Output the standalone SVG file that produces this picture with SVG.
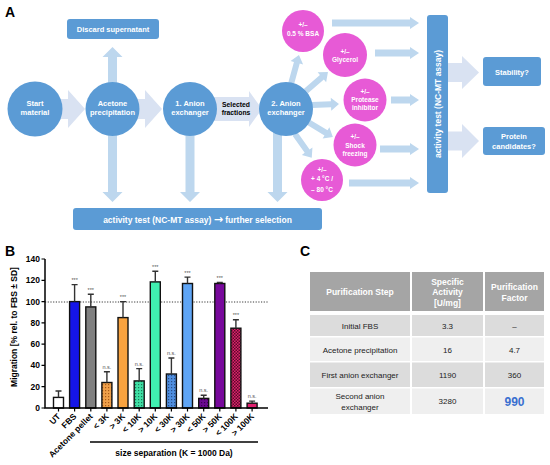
<svg xmlns="http://www.w3.org/2000/svg" width="550" height="465" viewBox="0 0 550 465">
<defs>
<style>
text{font-family:"Liberation Sans",Arial,sans-serif}
.pl{font-size:14px;font-weight:bold;fill:#000}
.bc{fill:#5b9bd5}
.pk{fill:#e75ad6}
.wt{fill:#fff;font-weight:bold;text-anchor:middle}
.cl{font-size:7.5px}
.pt{font-size:6.5px}
.la{fill:#bdd7ee}
.ch{fill:#d9e2f2}
.ax{stroke:#000;stroke-width:1.5;fill:none}
.bar{stroke:#111;stroke-width:1.4}
.eb{stroke:#333;stroke-width:1.4;fill:none}
.an{font-size:5.5px;fill:#555;text-anchor:middle}
.tk{font-size:8.5px;font-weight:bold;text-anchor:end}
.xl{font-size:8.5px;font-weight:bold;text-anchor:end}
.th{fill:#a5a5a5}
.r1{fill:#dcdcdc}
.r2{fill:#efefef}
.tt{font-size:8px;text-anchor:middle;fill:#222}
.thx{font-size:8.5px;font-weight:bold;text-anchor:middle;fill:#fff}
</style>
<pattern id="pOr" width="3" height="3" patternUnits="userSpaceOnUse"><rect width="3" height="3" fill="#f0a04a"/><rect width="1.2" height="1.2" fill="#a85a18"/></pattern>
<pattern id="pGr" width="3" height="3" patternUnits="userSpaceOnUse"><rect width="3" height="3" fill="#3fe0a5"/><rect width="1.2" height="1.2" fill="#1c7a58"/></pattern>
<pattern id="pBl" width="3" height="3" patternUnits="userSpaceOnUse"><rect width="3" height="3" fill="#4f8fe0"/><rect width="1.2" height="1.2" fill="#2a4f8a"/></pattern>
<pattern id="pPu" width="3" height="3" patternUnits="userSpaceOnUse"><rect width="3" height="3" fill="#6a0a90"/><rect width="1.2" height="1.2" fill="#3a0050"/></pattern>
<pattern id="pCk" width="3" height="3" patternUnits="userSpaceOnUse"><rect width="3" height="3" fill="#e0226c"/><rect width="1.5" height="1.5" fill="#5a0a2a"/><rect x="1.5" y="1.5" width="1.5" height="1.5" fill="#5a0a2a"/></pattern>
</defs>
<rect width="550" height="465" fill="#fff"/>

<!-- Panel labels -->
<text class="pl" x="5" y="17">A</text>
<text class="pl" x="5" y="256">B</text>
<text class="pl" x="300" y="256">C</text>

<!-- Panel A connectors -->
<g id="connectors-A">
<polygon class="ch" points="55,99 68,99 68,90 85,109 68,128 68,119 55,119"/>
<polygon class="ch" points="132,99 145,99 145,90 162,109 145,128 145,119 132,119"/>
<polygon class="ch" points="210,97 249,97 249,91 262,109 249,127 249,121 210,121"/>
<polygon class="la" points="108,86 108,57 102.5,57 112.5,47 122.5,57 117,57 117,86"/>
<polygon class="la" points="108,132 108,192 102.5,192 112.5,202 122.5,192 117,192 117,132"/>
<polygon class="la" points="185.5,132 185.5,192 180,192 190,202 200,192 194.5,192 194.5,132"/>
<polygon class="la" points="273,132 273,192 267.5,192 277.5,202 287.5,192 282,192 282,132"/>
<g class="la">
<polygon transform="translate(291,84) rotate(-74.6)" points="0,-3 22,-3 22,-6.5 30,0 22,6.5 22,3 0,3"/>
<polygon transform="translate(306,91) rotate(-40.8)" points="0,-3 21,-3 21,-6.5 29,0 21,6.5 21,3 0,3"/>
<polygon transform="translate(312,105) rotate(-2)" points="0,-3 19,-3 19,-6.5 27,0 19,6.5 19,3 0,3"/>
<polygon transform="translate(308,122) rotate(31)" points="0,-3 21,-3 21,-6.5 29,0 21,6.5 21,3 0,3"/>
<polygon transform="translate(295,134) rotate(54.7)" points="0,-3 21,-3 21,-6.5 29,0 21,6.5 21,3 0,3"/>
<polygon points="332,19.5 410,19.5 410,17 419,23 410,29 410,26.5 332,26.5"/>
<polygon points="375,49.5 410,49.5 410,47 419,53 410,59 410,56.5 375,56.5"/>
<polygon points="391,96.5 410,96.5 410,94 419,100 410,106 410,103.5 391,103.5"/>
<polygon points="380,145.5 410,145.5 410,143 419,149 410,155 410,152.5 380,152.5"/>
<polygon points="349,179.5 410,179.5 410,177 419,183 410,189 410,186.5 349,186.5"/>
</g>
<polygon class="ch" points="448,63 462,63 462,56 479,72.5 462,89 462,82 448,82"/>
<polygon class="ch" points="448,131.5 462,131.5 462,124 479,141 462,158 462,150.5 448,150.5"/>
</g>
<text x="236" y="107" font-size="6.8" font-weight="bold" text-anchor="middle">Selected</text>
<text x="236" y="115" font-size="6.8" font-weight="bold" text-anchor="middle">fractions</text>

<!-- Panel A nodes -->
<g id="discard"><rect class="bc" x="67" y="19" width="92" height="20" rx="3"/><text class="wt cl" x="113" y="32">Discard supernatant</text></g>
<g id="start"><circle class="bc" cx="35" cy="109" r="27.5"/><text class="wt cl" x="35" y="106">Start</text><text class="wt cl" x="35" y="115">material</text></g>
<g id="acetone"><circle class="bc" cx="112.5" cy="109" r="27"/><text class="wt cl" x="112.5" y="106">Acetone</text><text class="wt cl" x="112.5" y="115">precipitation</text></g>
<g id="anion1"><circle class="bc" cx="190" cy="109" r="27"/><text class="wt cl" x="190" y="106">1. Anion</text><text class="wt cl" x="190" y="115">exchanger</text></g>
<g id="anion2"><circle class="bc" cx="286" cy="109" r="27"/><text class="wt cl" x="286" y="106">2. Anion</text><text class="wt cl" x="286" y="115">exchanger</text></g>
<g id="bsa"><circle class="pk" cx="303" cy="31" r="21"/><text class="wt pt" x="303" y="27">+/–</text><text class="wt pt" x="303" y="36">0.5 % BSA</text></g>
<g id="glycerol"><circle class="pk" cx="345" cy="55" r="22"/><text class="wt pt" x="345" y="54">+/–</text><text class="wt pt" x="345" y="62">Glycerol</text></g>
<g id="protease"><circle class="pk" cx="365" cy="100" r="21.5"/><text class="wt pt" x="365" y="94">+/–</text><text class="wt pt" x="365" y="102">Protease</text><text class="wt pt" x="365" y="110">inhibitor</text></g>
<g id="shock"><circle class="pk" cx="355" cy="145" r="21.5"/><text class="wt pt" x="355" y="139">+/–</text><text class="wt pt" x="355" y="147.5">Shock</text><text class="wt pt" x="355" y="156">freezing</text></g>
<g id="temp"><circle class="pk" cx="322" cy="180" r="21"/><text class="wt pt" x="322" y="172">+/–</text><text class="wt pt" x="322" y="181">+ 4 °C /</text><text class="wt pt" x="322" y="192">– 80 °C</text></g>
<g id="activity-bottom"><rect class="bc" x="73" y="208" width="249" height="22" rx="3"/><text class="wt" font-size="8.5" x="197.5" y="222.5">activity test (NC-MT assay) <tspan font-size="11" font-family="DejaVu Sans, sans-serif">→</tspan> further selection</text></g>
<g id="activity-vertical"><rect class="bc" x="427" y="15" width="21" height="178" rx="3"/><text class="wt" font-size="8.5" transform="translate(441,104) rotate(-90)">activity test (NC-MT assay)</text></g>
<g id="stability"><rect class="bc" x="483" y="57" width="58" height="29" rx="3"/><text class="wt cl" x="512" y="75">Stability?</text></g>
<g id="protein"><rect class="bc" x="483" y="127" width="62" height="28" rx="3"/><text class="wt cl" x="514" y="139">Protein</text><text class="wt cl" x="514" y="149">candidates?</text></g>

<!-- Panel B chart -->
<g id="chart-B">
<line x1="45" y1="302" x2="268" y2="302" stroke="#222" stroke-width="0.9" stroke-dasharray="1.2,1.5"/>
<g class="bar">
<rect x="53.5" y="397.4" width="10" height="10.6" fill="#fff"/>
<rect x="69.6" y="301.6" width="10" height="106.4" fill="#1515e8"/>
<rect x="85.8" y="306.9" width="10" height="101.1" fill="#808080"/>
<rect x="101.9" y="382.5" width="10" height="25.5" fill="url(#pOr)"/>
<rect x="118" y="317.6" width="10" height="90.4" fill="#f8a340"/>
<rect x="134.2" y="380.9" width="10" height="27.1" fill="url(#pGr)"/>
<rect x="150.3" y="281.9" width="10" height="126.1" fill="#40f0b0"/>
<rect x="166.4" y="374" width="10" height="34" fill="url(#pBl)"/>
<rect x="182.5" y="283.5" width="10" height="124.5" fill="#5fa5f5"/>
<rect x="198.7" y="398.4" width="10" height="9.6" fill="url(#pPu)"/>
<rect x="214.8" y="283.5" width="10" height="124.5" fill="#78099c"/>
<rect x="230.9" y="328.2" width="10" height="79.8" fill="url(#pCk)"/>
<rect x="247.1" y="403.2" width="10" height="4.8" fill="#e0206e"/>
</g>
<path class="eb" d="M58.5,397.4V391M55.5,391H61.5M74.6,301.6V284.6M71.6,284.6H77.6M90.8,306.9V294.2M87.8,294.2H93.8M106.9,382.5V371.8M103.9,371.8H109.9M123,317.6V301.6M120,301.6H126M139.2,380.9V368.6M136.2,368.6H142.2M155.3,281.9V271.3M152.3,271.3H158.3M171.4,374V358M168.4,358H174.4M187.5,283.5V277.1M184.5,277.1H190.5M203.7,398.4V395.2M200.7,395.2H206.7M219.8,283.5V282.4M216.8,282.4H222.8M235.9,328.2V319.7M232.9,319.7H238.9M252.1,403.2V401.1M249.1,401.1H255.1"/>
<g>
<text class="an" x="74.6" y="282">***</text>
<text class="an" x="90.8" y="291.5">***</text>
<text class="an" x="106.9" y="368.5">n.s.</text>
<text class="an" x="123" y="299">***</text>
<text class="an" x="139.2" y="365.5">n.s.</text>
<text class="an" x="155.3" y="268.5">***</text>
<text class="an" x="171.4" y="355">n.s.</text>
<text class="an" x="187.5" y="274.5">***</text>
<text class="an" x="203.7" y="392">n.s.</text>
<text class="an" x="219.8" y="279.5">***</text>
<text class="an" x="235.9" y="317">***</text>
<text class="an" x="252.1" y="398">n.s.</text>
</g>
<path class="ax" d="M45,259V408H268"/>
<path stroke="#000" stroke-width="1.2" d="M41.5,259H45M41.5,280.3H45M41.5,301.6H45M41.5,322.8H45M41.5,344.2H45M41.5,365.4H45M41.5,386.7H45M41.5,408H45"/>
<path stroke="#000" stroke-width="1.2" d="M58.5,408v3.5M74.6,408v3.5M90.8,408v3.5M106.9,408v3.5M123,408v3.5M139.2,408v3.5M155.3,408v3.5M171.4,408v3.5M187.5,408v3.5M203.7,408v3.5M219.8,408v3.5M235.9,408v3.5M252.1,408v3.5"/>
<g>
<text class="tk" x="40" y="262">140</text>
<text class="tk" x="40" y="283.3">120</text>
<text class="tk" x="40" y="304.6">100</text>
<text class="tk" x="40" y="325.8">80</text>
<text class="tk" x="40" y="347.2">60</text>
<text class="tk" x="40" y="368.4">40</text>
<text class="tk" x="40" y="389.7">20</text>
<text class="tk" x="40" y="411">0</text>
</g>
<text font-size="8.5" font-weight="bold" text-anchor="middle" transform="translate(17,327) rotate(-90)">Migration [% rel. to FBS ± SD]</text>
<g>
<text class="xl" transform="translate(61,417) rotate(-45)">UT</text>
<text class="xl" transform="translate(77.1,417) rotate(-45)">FBS</text>
<text class="xl" transform="translate(93.3,417) rotate(-45)">Acetone pellet</text>
<text class="xl" transform="translate(109.4,417) rotate(-45)">&lt; 3K</text>
<text class="xl" transform="translate(125.5,417) rotate(-45)">&gt; 3K</text>
<text class="xl" transform="translate(141.7,417) rotate(-45)">&lt; 10K</text>
<text class="xl" transform="translate(157.8,417) rotate(-45)">&gt; 10K</text>
<text class="xl" transform="translate(173.9,417) rotate(-45)">&lt; 30K</text>
<text class="xl" transform="translate(190,417) rotate(-45)">&gt; 30K</text>
<text class="xl" transform="translate(206.2,417) rotate(-45)">&lt; 50K</text>
<text class="xl" transform="translate(222.3,417) rotate(-45)">&gt; 50K</text>
<text class="xl" transform="translate(238.4,417) rotate(-45)">&lt; 100K</text>
<text class="xl" transform="translate(254.6,417) rotate(-45)">&gt; 100K</text>
</g>
<line x1="90" y1="442" x2="258" y2="442" stroke="#000" stroke-width="1.3"/>
<text x="174" y="456" font-size="8.5" font-weight="bold" text-anchor="middle">size separation (K = 1000 Da)</text>
</g>

<!-- Panel C table -->
<g id="table-C">
<rect class="th" x="310" y="272" width="100" height="39"/>
<rect class="th" x="412" y="272" width="71" height="39"/>
<rect class="th" x="485" y="272" width="59" height="39"/>
<rect class="r1" x="310" y="315" width="100" height="21"/>
<rect class="r1" x="412" y="315" width="71" height="21"/>
<rect class="r1" x="485" y="315" width="59" height="21"/>
<rect class="r2" x="310" y="337.5" width="100" height="23.5"/>
<rect class="r2" x="412" y="337.5" width="71" height="23.5"/>
<rect class="r2" x="485" y="337.5" width="59" height="23.5"/>
<rect class="r1" x="310" y="362.5" width="100" height="24.5"/>
<rect class="r1" x="412" y="362.5" width="71" height="24.5"/>
<rect class="r1" x="485" y="362.5" width="59" height="24.5"/>
<rect class="r2" x="310" y="388.5" width="100" height="25.5"/>
<rect class="r2" x="412" y="388.5" width="71" height="25.5"/>
<rect class="r2" x="485" y="388.5" width="59" height="25.5"/>
<text class="thx" x="360" y="295">Purification Step</text>
<text class="thx" x="447.5" y="284.5">Specific</text>
<text class="thx" x="447.5" y="295">Activity</text>
<text class="thx" x="447.5" y="305.5">[U/mg]</text>
<text class="thx" x="514.5" y="290">Purification</text>
<text class="thx" x="514.5" y="300.5">Factor</text>
<text class="tt" x="360" y="328.5">Initial FBS</text>
<text class="tt" x="447.5" y="328.5">3.3</text>
<text class="tt" x="514.5" y="328.5">–</text>
<text class="tt" x="360" y="352.5">Acetone precipitation</text>
<text class="tt" x="447.5" y="352.5">16</text>
<text class="tt" x="514.5" y="352.5">4.7</text>
<text class="tt" x="360" y="378">First anion exchanger</text>
<text class="tt" x="447.5" y="378">1190</text>
<text class="tt" x="514.5" y="378">360</text>
<text class="tt" x="360" y="399">Second anion</text>
<text class="tt" x="360" y="410">exchanger</text>
<text class="tt" x="447.5" y="404">3280</text>
<text x="514.5" y="405.5" font-size="12" font-weight="bold" text-anchor="middle" fill="#3a6fd0">990</text>
</g>
</svg>
